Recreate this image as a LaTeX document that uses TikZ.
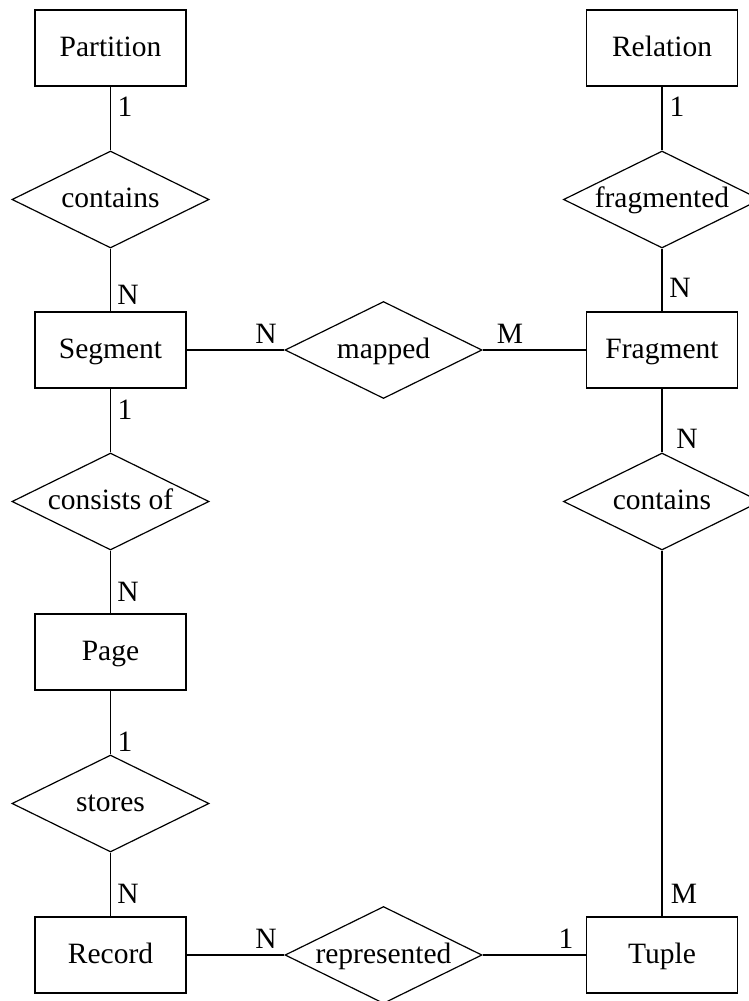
\documentclass[tikz,border=0pt]{standalone}
\usepackage{fontspec}
\setmainfont{Liberation Serif}
\usetikzlibrary{shapes.geometric}
\newcommand{\reltext}[1]{\makebox[0pt][c]{#1}}
\begin{document}
\begin{tikzpicture}[x=1pt,y=-1pt,
  every node/.style={font=\fontsize{29.5}{34}\selectfont},
  entity/.style={draw, line width=1.2pt, rectangle, minimum width=151pt, minimum height=76pt, inner sep=0pt, text height=17pt, text depth=1pt},
  rel/.style={draw, line width=1.2pt, diamond, aspect=2, minimum width=197pt, minimum height=97pt, inner sep=0pt, text height=16pt, text depth=0pt},
  card/.style={inner sep=0pt},
  conn/.style={line width=1.2pt}]
\path[use as bounding box] (0,0) rectangle (748,1001);

% entities
\node[entity] (partition) at (110.5,48) {Partition};
\node[entity] (segment)   at (110.5,350) {Segment};
\node[entity] (page)      at (110.5,652) {Page};
\node[entity] (record)    at (110.5,955) {Record};
\node[entity] (relation)  at (662,48) {Relation};
\node[entity] (fragment)  at (662,350) {Fragment};
\node[entity] (tuple)     at (662,955) {Tuple};

% relationships
\node[rel] (contains1)  at (110.5,199.5) {\reltext{contains}};
\node[rel] (consists)   at (110.5,501.5) {\reltext{consists of}};
\node[rel] (stores)     at (110.5,803.5) {\reltext{stores}};
\node[rel] (fragmented) at (662,199.5) {\reltext{fragmented}};
\node[rel] (contains2)  at (662,501.5) {\reltext{contains}};
\node[rel] (mapped)     at (383.5,350) {\reltext{mapped}};
\node[rel] (represented) at (383.5,955) {\reltext{represented}};

% connectors
\draw[conn] (partition) -- (contains1);
\draw[conn] (contains1) -- (segment);
\draw[conn] (segment) -- (consists);
\draw[conn] (consists) -- (page);
\draw[conn] (page) -- (stores);
\draw[conn] (stores) -- (record);
\draw[conn] (relation) -- (fragmented);
\draw[conn] (fragmented) -- (fragment);
\draw[conn] (fragment) -- (contains2);
\draw[conn] (contains2) -- (tuple);
\draw[conn] (segment) -- (mapped);
\draw[conn] (mapped) -- (fragment);
\draw[conn] (record) -- (represented);
\draw[conn] (represented) -- (tuple);

% cardinalities
\node[card] (c1) at (125,107) {1};
\node[card] (c2) at (128,295) {N};
\node[card] (c3) at (125,410) {1};
\node[card] (c4) at (128,592) {N};
\node[card] (c5) at (125,742) {1};
\node[card] (c6) at (128,894) {N};
\node[card] (c7) at (677,107) {1};
\node[card] (c8) at (680,288) {N};
\node[card] (c9) at (687,439) {N};
\node[card] (c10) at (684,894) {M};
\node[card] (c11) at (266,334) {N};
\node[card] (c12) at (510,334) {M};
\node[card] (c13) at (266,939) {N};
\node[card] (c14) at (566,939) {1};
\end{tikzpicture}
\end{document}
